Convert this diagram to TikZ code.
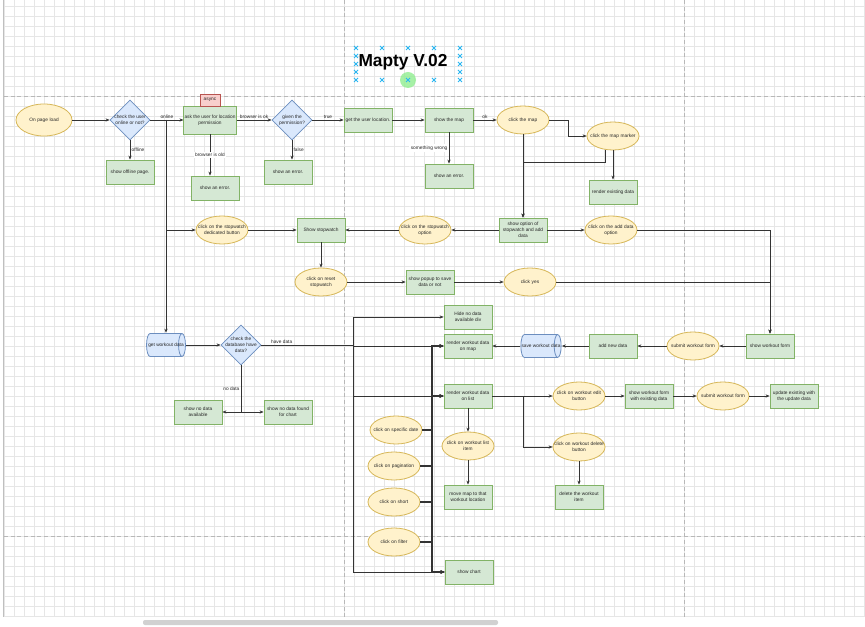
\documentclass[tikz,border=0pt]{standalone}
\usepackage{fontspec}
\setmainfont{Liberation Sans}
\usetikzlibrary{arrows.meta,shapes.geometric}

\definecolor{grnfill}{HTML}{D5E8D4}
\definecolor{grnline}{HTML}{82B366}
\definecolor{yelfill}{HTML}{FFF2CC}
\definecolor{yelline}{HTML}{D6B656}
\definecolor{blufill}{HTML}{DAE8FC}
\definecolor{bluline}{HTML}{6C8EBF}
\definecolor{redfill}{HTML}{F8CECC}
\definecolor{redline}{HTML}{B85450}
\definecolor{gridcol}{HTML}{E6E6E6}
\definecolor{pagecol}{HTML}{B8B8B8}
\definecolor{handlecol}{HTML}{29B6F2}
\definecolor{greencol}{HTML}{90EE90}

\tikzset{
  base/.style={font=\fontsize{3.6}{4.4}\selectfont, align=center, inner sep=0.5pt, text=black!85},
  proc/.style={base, rectangle, draw=grnline, fill=grnfill, line width=0.6pt,
    minimum width=36pt, minimum height=18pt},
  event/.style={base, ellipse, draw=yelline, fill=yelfill, line width=0.6pt,
    minimum width=39pt, minimum height=21pt, text width=38pt, inner xsep=-6pt, inner ysep=0pt},
  decision/.style={diamond, draw=bluline, fill=blufill, line width=0.6pt,
    minimum width=30pt, minimum height=30pt, inner sep=0pt},
  % horizontal data store, cap on the right
  store/.style={base, rectangle, minimum width=30pt, minimum height=18pt, inner sep=0pt,
    path picture={
      \filldraw[fill=blufill, draw=bluline, line width=0.6pt]
        ([xshift=3pt,yshift=-0.4pt]path picture bounding box.north west)
        -- ([xshift=-3pt,yshift=-0.4pt]path picture bounding box.north east)
        arc[start angle=90, end angle=-90, x radius=2.6pt, y radius=8.6pt]
        -- ([xshift=3pt,yshift=0.4pt]path picture bounding box.south west)
        arc[start angle=270, end angle=90, x radius=2.6pt, y radius=8.6pt] -- cycle;
      \draw[bluline, line width=0.6pt]
        ([xshift=-3pt,yshift=-0.4pt]path picture bounding box.north east)
        arc[start angle=90, end angle=270, x radius=2.6pt, y radius=8.6pt];
    }},
  note/.style={base, draw=redline, fill=redfill, line width=0.6pt,
    minimum width=15pt, minimum height=9pt},
  lbl/.style={font=\fontsize{3.6}{4.4}\selectfont, inner sep=1pt, text=black!85},
  flow/.style={draw=black!80, line width=0.45pt, -{Stealth[length=3pt,width=2.4pt]}},
  bus/.style={flow, line width=0.9pt},
  gridline/.style={draw=gridcol, line width=0.4pt},
  pagebreak/.style={draw=pagecol, line width=0.5pt, dash pattern=on 3pt off 2pt},
  handle/.style={draw=handlecol, line width=0.6pt},
}

\begin{document}
\begin{tikzpicture}[x=0.75pt,y=-0.75pt]
  % canvas
  \useasboundingbox (0,0) rectangle (865,627);
  \fill[white] (0,0) rectangle (865,627);
  \foreach \gx in {4,14,...,864}
    \draw[gridline] (\gx,0) -- (\gx,617);
  \foreach \gy in {6,16,...,616}
    \draw[gridline] (4,\gy) -- (865,\gy);
  \draw[draw=black!25, line width=0.5pt] (3.5,0) -- (3.5,617);
  \draw[pagebreak] (344,0) -- (344,617);
  \draw[pagebreak] (684,0) -- (684,617);
  \draw[pagebreak] (4,96) -- (865,96);
  \draw[pagebreak] (4,536) -- (865,536);
  \fill[black!18, rounded corners=1.5pt] (143,620) rectangle (498,625);

  % title with its selection handles
  \node[font=\fontsize{13}{15}\selectfont\bfseries] (title) at (403,62) {Mapty V.02};
  \fill[greencol, opacity=0.8] (408,80) circle (6pt);
  \foreach \hx/\hy in {356/48,356/56,356/64,356/72,356/80,460/48,460/56,460/64,460/72,460/80,
                       382/48,408/48,434/48,382/80,408/80,434/80}
    \draw[handle] (\hx,\hy) ++(-2,-2) -- ++(4,4) ++(-4,0) -- ++(4,-4);

  % first row
  \node[event, minimum width=42pt, minimum height=24pt] (load) at (44,120) {On page load};
  \node[decision, label={[base]center:check the user\\online or not?}] (chk) at (130,120) {};
  \node[proc, minimum width=39pt, minimum height=21pt] (ask) at (210,120) {ask the user for location\\permission};
  \node[note] (async) at (210,100) {async};
  \node[decision, label={[base]center:given the\\permission?}] (perm) at (292,120) {};
  \node[proc] (loc) at (368,120) {get the user location.};
  \node[proc] (map) at (449,120) {show the map};
  \node[event] (cmap) at (523,120) {click the map};
  \node[event] (marker) at (613,136) {click the map marker};
  \node[proc] (render) at (613,192) {render existing data};

  \node[proc] (offl) at (130,172) {show offline page.};
  \node[proc] (err1) at (215,188) {show an error.};
  \node[proc] (err2) at (288,172) {show an error.};
  \node[proc] (err3) at (449,176) {show an error.};

  % stopwatch row
  \node[event] (dedic) at (222,230) {click on the stopwatch\\dedicated button};
  \node[proc] (sw) at (321,230) {Show stopwatch};
  \node[event] (swopt) at (425,230) {click on the stopwatch\\option};
  \node[proc] (opt) at (523,230) {show option of\\stopwatch and add\\data};
  \node[event] (addopt) at (611,230) {click on the add data\\option};
  \node[event] (reset) at (321,282) {click on reset\\stopwatch};
  \node[proc] (popup) at (430,282) {show popup to save\\data or not};
  \node[event] (yes) at (530,282) {click yes};

  % workout data
  \node[store] (getdata) at (166,345) {get workout data};
  \node[decision, label={[base]center:check the\\database have\\data?}] (dbchk) at (241,345) {};
  \node[proc] (nodata) at (198,412) {show no data\\available};
  \node[proc] (nochart) at (288,412) {show no data found\\for chart};
  \node[proc] (hide) at (468,317) {Hide no data\\available div};
  \node[proc] (onmap) at (468,346) {render workout data\\on map};
  \node[store, minimum width=31pt] (save) at (541,346) {save workout data};
  \node[proc] (addnew) at (613,346) {add new data};
  \node[event] (submit) at (693,346) {submit workout form};
  \node[proc] (wform) at (770,346) {show workout form};
  \node[proc] (list) at (468,396) {render workout data\\on list};
  \node[event] (edit) at (579,396) {click on workout edit\\button};
  \node[proc] (wformex) at (649,396) {show workout form\\with existing data};
  \node[event] (submitex) at (723,396) {submit workout form};
  \node[proc] (update) at (794,396) {update existing with\\the update data};
  \node[event] (item) at (468,446) {click on workout list\\item};
  \node[proc] (move) at (468,497) {move map to that\\workout location};
  \node[event] (del) at (579,447) {click on workout delete\\button};
  \node[proc] (delitem) at (579,497) {delete the workout\\item};

  % list controls
  \node[event] (date) at (396,430) {click on specific date};
  \node[event] (page) at (394,466) {click on pagination};
  \node[event] (short) at (394,502) {click on short};
  \node[event] (filter) at (394,542) {click on filter};
  \node[proc] (chart) at (469,572) {show chart};
  \coordinate (bus) at (432,346);

  % connectors
  \draw[flow] (load) -- (chk);
  \draw[flow] (chk) -- node[lbl, above] {online} (ask);
  \draw[flow] (chk) -- node[lbl, right] {offline} (offl);
  \draw[flow] (ask) -- node[lbl, above] {browser is ok} (perm);
  \draw[flow] (ask.south) -- node[lbl, fill=white] {browser is old} (ask.south |- err1.north);
  \draw[flow] (perm) -- node[lbl, above] {true} (loc);
  \draw[flow] (perm.south) -- node[lbl, right] {false} (perm.south |- err2.north);
  \draw[flow] (loc) -- (map);
  \draw[flow] (map) -- node[lbl, above] {ok} (cmap);
  \draw[flow] (map) -- node[lbl, left, fill=white] {something wrong} (err3);
  \draw[flow] (cmap.east) -- ++(19,0) |- (marker);
  \draw[flow] (cmap) -- (opt);
  \draw[flow] (marker.240) -- ++(0,13) -| (opt);
  \draw[flow] (marker) -- (render);

  \draw[flow] (chk.east -| getdata.north) -- (getdata);
  \draw[flow] (chk.east -| getdata.north) |- (dedic);
  \draw[flow] (dedic) -- (sw);
  \draw[flow] (opt) -- (swopt);
  \draw[flow] (swopt) -- (sw);
  \draw[flow] (opt) -- (addopt);
  \draw[flow] (sw) -- (reset);
  \draw[flow] (reset) -- (popup);
  \draw[flow] (popup) -- (yes);
  \draw[flow] (yes) -| (wform);
  \draw[flow] (addopt) -| (wform);

  \draw[flow] (wform) -- (submit);
  \draw[flow] (submit) -- (addnew);
  \draw[flow] (addnew) -- (save);
  \draw[flow] (save) -- (onmap);

  \draw[flow] (getdata) -- (dbchk);
  \draw[flow] (dbchk.south) |- node[lbl, left, pos=0.25] {no data} (nodata);
  \draw[flow] (dbchk.south) |- (nochart);
  \draw[flow] (dbchk.east) -- node[lbl, above, pos=0.22] {have data} ++(92,0) |- (hide);
  \foreach \t in {onmap,list,chart}
    \draw[flow] (dbchk.east) -- ++(92,0) |- (\t);

  \draw[flow] (list) -- (edit);
  \draw[flow] (list.east) -- ++(31,0) |- (del);
  \draw[flow] (list) -- (item);
  \draw[flow] (item) -- (move);
  \draw[flow] (del) -- (delitem);
  \draw[flow] (edit) -- (wformex);
  \draw[flow] (wformex) -- (submitex);
  \draw[flow] (submitex) -- (update);

  \foreach \e in {date,page,short,filter}
    \foreach \t in {onmap,list,chart}
      \draw[bus] (\e.east) -- (\e.east -| bus) |- (\t);
\end{tikzpicture}
\end{document}
